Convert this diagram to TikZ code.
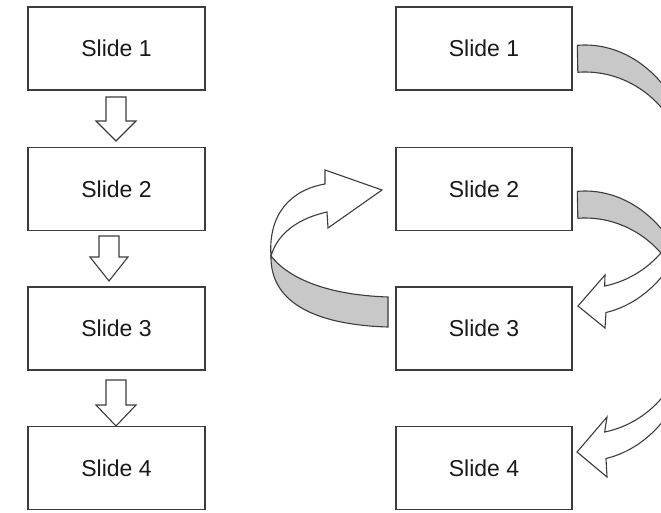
\documentclass[tikz,border=0pt]{standalone}
\usepackage{fontspec}
\setmainfont{Liberation Sans}
\definecolor{linegray}{RGB}{60,60,60}
\definecolor{textgray}{RGB}{25,25,25}
\definecolor{ribbongray}{RGB}{200,200,200}
\tikzset{
  slidebox/.style={draw=linegray, line width=1.4pt, fill=white, minimum height=83pt,
    inner sep=0pt, text=textgray, font=\fontsize{23}{27}\selectfont},
  leftbox/.style={slidebox, minimum width=177pt},
  rightbox/.style={slidebox, minimum width=176pt},
  blockarrow/.style={draw=linegray, line width=1.1pt, fill=white, line join=miter},
  ribbon/.style={draw=linegray, line width=1.1pt, line join=miter},
}
\begin{document}
\begin{tikzpicture}[x=1pt,y=-1pt]
\useasboundingbox (0,0) rectangle (661,513);
\clip (0,0) rectangle (661,513);
\fill[white] (0,0) rectangle (661,513);

% left column
\node[leftbox] (L1) at (116.5,48.5) {Slide 1};
\node[leftbox] (L2) at (116.5,189) {Slide 2};
\node[leftbox] (L3) at (116.5,328.5) {Slide 3};
\node[leftbox] (L4) at (116.5,468) {Slide 4};

% right column
\node[rightbox] (R1) at (484,48.5) {Slide 1};
\node[rightbox] (R2) at (484,189) {Slide 2};
\node[rightbox] (R3) at (484,328.5) {Slide 3};
\node[rightbox] (R4) at (484,468) {Slide 4};

% block arrows, left column
\draw[blockarrow] (106,97) -- (126,97) -- (126,121) -- (136,121) -- (116,141) -- (96,121) -- (106,121) -- cycle;
\draw[blockarrow] (99,236) -- (119,236) -- (119,257) -- (128,257) -- (109,281) -- (90,257) -- (99,257) -- cycle;
\draw[blockarrow] (106,380) -- (126,380) -- (126,405) -- (136,405) -- (116,426) -- (96,405) -- (106,405) -- cycle;

% ribbon arrow Slide 1 -> Slide 3 (right side)
\draw[ribbon, fill=ribbongray]
  plot[domain=-94:0, samples=40] ({585+110*cos(\x)},{180+135*sin(\x)})
  -- plot[domain=0:-94, samples=40] ({585+103*cos(\x)},{180+108*sin(\x)}) -- cycle;
\draw[ribbon, fill=white]
  plot[domain=0:79, samples=40] ({585+110*cos(\x)},{180+135*sin(\x)})
  -- (605,328) -- (578,306) -- (605,275)
  -- plot[domain=79:0, samples=40] ({585+103*cos(\x)},{180+108*sin(\x)}) -- cycle;

% ribbon arrow Slide 2 -> Slide 4 (right side)
\draw[ribbon, fill=white]
  plot[domain=0:79, samples=40] ({585+110*cos(\x)},{326+135*sin(\x)})
  -- (607,477) -- (577,452) -- (607,417)
  -- plot[domain=79:0, samples=40] ({585+103*cos(\x)},{326+108*sin(\x)}) -- cycle;
\draw[ribbon, fill=ribbongray]
  plot[domain=-94:0, samples=40] ({585+110*cos(\x)},{326+135*sin(\x)})
  -- plot[domain=0:-94, samples=40] ({585+103*cos(\x)},{326+108*sin(\x)}) -- cycle;

% ribbon arrow Slide 3 -> Slide 2 (left side)
\coordinate (tw) at (271,256);
\draw[ribbon, fill=ribbongray]
  (388,297) -- (388,327) .. controls (320,325) and (270,305) .. (tw)
  .. controls (290,280) and (330,295) .. (388,297) -- cycle;
\draw[ribbon, fill=white]
  (tw) .. controls (268,215) and (290,190) .. (325,184)
  -- (325,170) -- (382,190) -- (328,228) -- (327,212)
  .. controls (300,218) and (278,232) .. (tw) -- cycle;
\end{tikzpicture}
\end{document}
